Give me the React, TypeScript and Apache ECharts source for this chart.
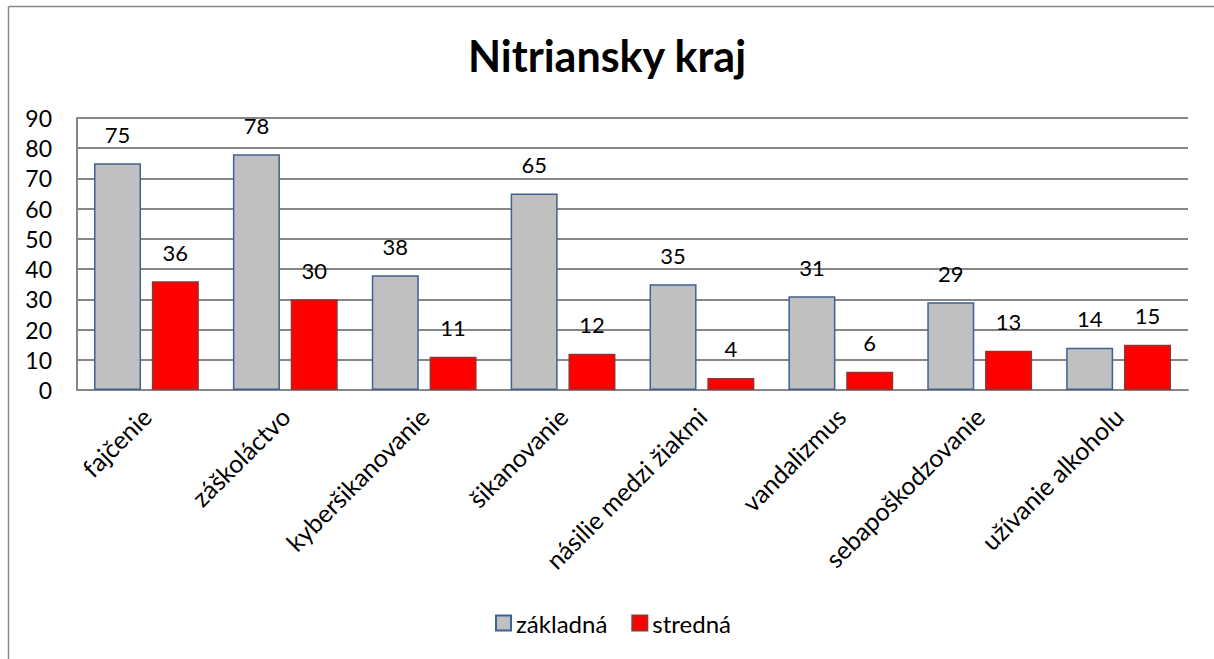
import React, { useEffect, useRef } from "react";
import * as echarts from "echarts";

const categories = [
  "fajčenie",
  "záškoláctvo",
  "kyberšikanovanie",
  "šikanovanie",
  "násilie medzi žiakmi",
  "vandalizmus",
  "sebapoškodzovanie",
  "užívanie alkoholu",
];
const zakladna = [75, 78, 38, 65, 35, 31, 29, 14];
const stredna = [36, 30, 11, 12, 4, 6, 13, 15];
const seriesNames = ["základná", "stredná"];
const titleText = "Nitriansky kraj";

const FONT = "Lato, 'Open Sans', sans-serif";

export default function App() {
  const ref = useRef<HTMLDivElement>(null);
  useEffect(() => {
    document.body.style.margin = "0";
    const chart = echarts.init(ref.current!, null, { renderer: "svg" });
    const labelStyle = {
      show: true,
      position: "top" as const,
      distance: 18,
      fontSize: 22,
      color: "#000",
      fontFamily: FONT,
    };
    chart.setOption({
      animation: false,
      backgroundColor: "#fff",
      title: {
        text: titleText,
        left: "center",
        top: 29,
        textStyle: { fontSize: 43, fontWeight: "bold", color: "#000", fontFamily: FONT },
      },
      graphic: [
        { type: "line", shape: { x1: 8.5, y1: 6.5, x2: 8.5, y2: 700 }, style: { stroke: "#868686", lineWidth: 1.5 } },
        { type: "line", shape: { x1: 8.5, y1: 6.5, x2: 1300, y2: 6.5 }, style: { stroke: "#868686", lineWidth: 1.5 } },
      ],
      legend: {
        top: 606,
        left: 490,
        icon: "rect",
        itemWidth: 15,
        itemHeight: 15,
        itemGap: 24,
        textStyle: { fontSize: 24, color: "#000", fontFamily: FONT },
        data: seriesNames,
      },
      grid: { left: 77, right: 26, top: 118, bottom: 269, containLabel: false },
      xAxis: {
        type: "category",
        data: categories,
        axisTick: { show: false },
        axisLine: { show: true, lineStyle: { color: "#868686", width: 2 } },
        axisLabel: {
          rotate: 45,
          interval: 0,
          fontSize: 25,
          color: "#000",
          fontFamily: FONT,
          margin: 22,
        },
      },
      yAxis: {
        type: "value",
        min: 0,
        max: 90,
        interval: 10,
        axisLine: { show: true, lineStyle: { color: "#868686", width: 2 } },
        axisTick: { show: false },
        splitLine: { lineStyle: { color: "#868686", width: 2 } },
        axisLabel: { fontSize: 23, color: "#000", fontFamily: FONT, margin: 25 },
      },
      series: [
        {
          name: seriesNames[0],
          type: "bar",
          data: zakladna,
          barWidth: 47,
          barGap: "23%",
          itemStyle: { color: "#C0C0C0", borderColor: "#3F6193", borderWidth: 1.5 },
          label: labelStyle,
        },
        {
          name: seriesNames[1],
          type: "bar",
          data: stredna,
          barWidth: 47,
          barGap: "23%",
          itemStyle: { color: "#FF0000", borderColor: "#963232", borderWidth: 1.5 },
          label: labelStyle,
        },
      ],
    });
    return () => chart.dispose();
  }, []);
  return <div ref={ref} style={{ width: 1214, height: 659 }} />;
}
